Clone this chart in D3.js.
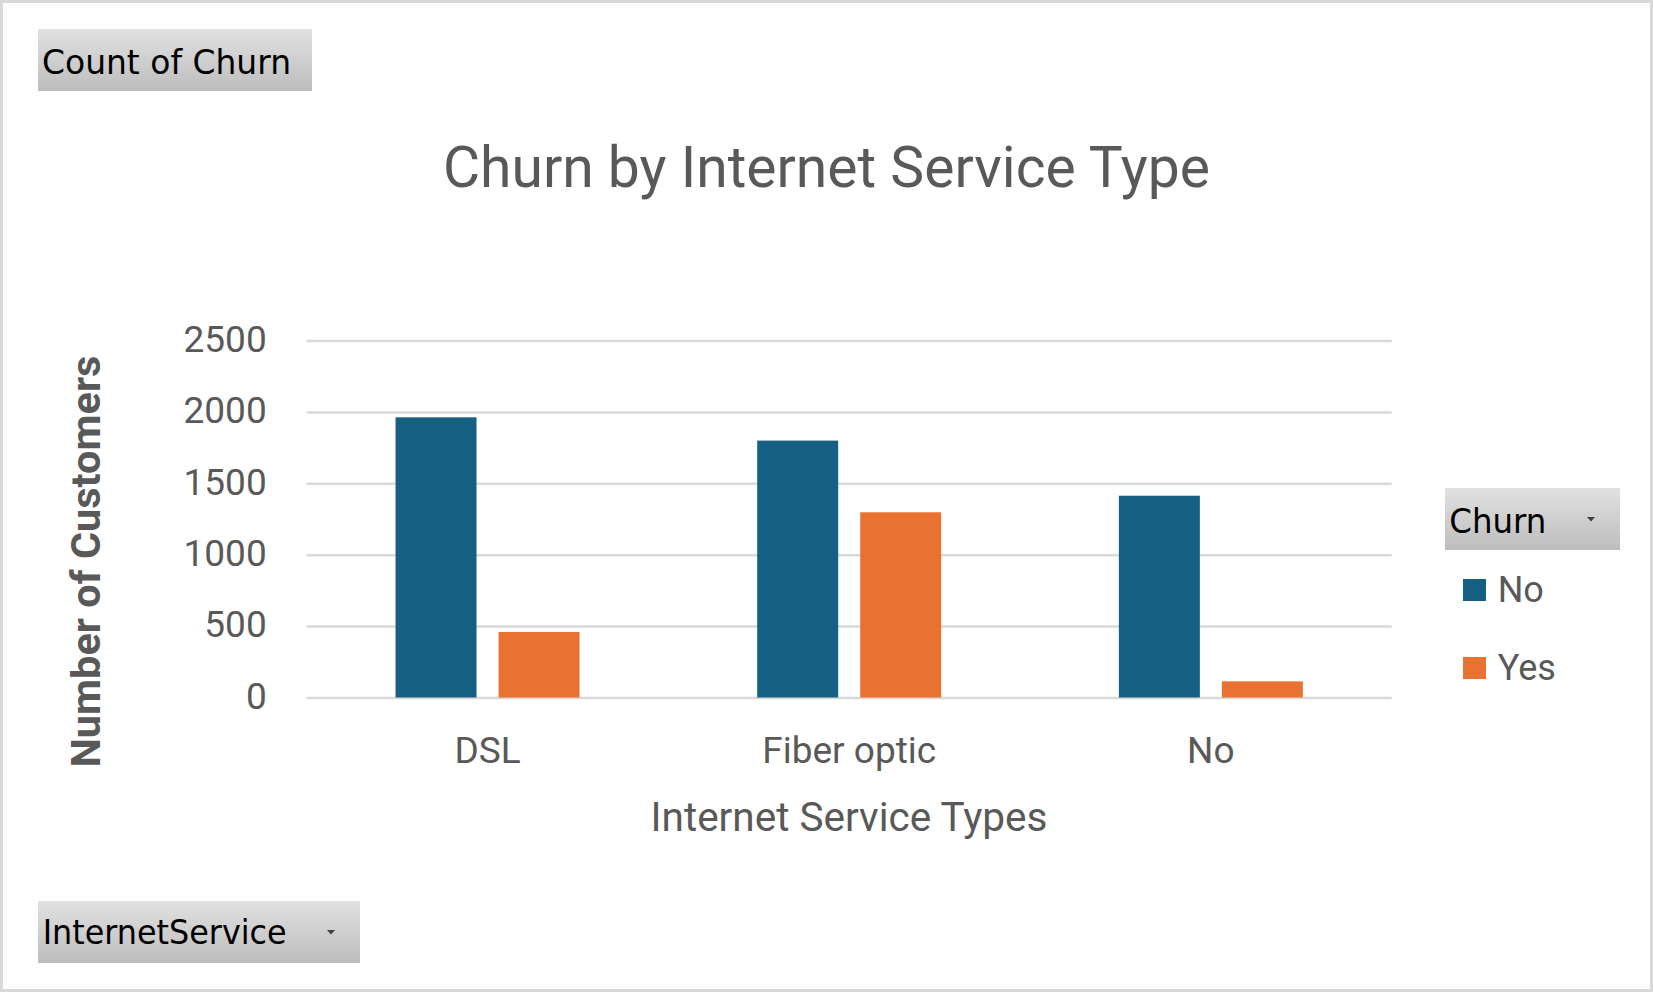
<!DOCTYPE html>
<html>
<head>
<meta charset="utf-8">
<script src="https://cdn.jsdelivr.net/npm/d3@7"></script>
<style>
  html, body { margin: 0; padding: 0; background: #ffffff; }
  svg { display: block; }
</style>
</head>
<body>
<svg id="chart" width="1653" height="993"></svg>
<script>
// ---- data ----
const categories = ["DSL", "Fiber optic", "No"];
const seriesNames = ["No", "Yes"];
const churnNo = [1962, 1799, 1413];
const churnYes = [459, 1297, 113];
const yTicks = [0, 500, 1000, 1500, 2000, 2500];
const seriesColors = ["#156082", "#E97132"];

const chartTitle = "Churn by Internet Service Type";
const xTitle = "Internet Service Types";
const yTitle = "Number of Customers";

// ---- build rows ----
const rows = categories.map((c, i) => ({ cat: c, values: [
  { key: seriesNames[0], value: churnNo[i] },
  { key: seriesNames[1], value: churnYes[i] }
]}));

const svg = d3.select("#chart");
const W = 1653, H = 993;
const textColor = "#595959";
const font = "Roboto, 'Liberation Sans', Arial, sans-serif";
const btnFont = "'DejaVu Sans', Verdana, sans-serif";

// background + border
svg.append("rect").attr("x", 1.5).attr("y", 1.5).attr("width", W - 3).attr("height", H - 4)
  .attr("fill", "#ffffff").attr("stroke", "#d9d9d9").attr("stroke-width", 3);

// gradient for pivot buttons
const defs = svg.append("defs");
const grad = defs.append("linearGradient").attr("id", "btnGrad")
  .attr("x1", 0).attr("y1", 0).attr("x2", 0).attr("y2", 1);
grad.append("stop").attr("offset", "0%").attr("stop-color", "#e1e1e1");
grad.append("stop").attr("offset", "100%").attr("stop-color", "#bdbdbd");

// ---- scales ----
const plot = { left: 306.7, right: 1391.7, top: 340.5, bottom: 697.5 };
const y = d3.scaleLinear().domain([0, 2500]).range([plot.bottom, plot.top]);
const x0 = d3.scaleBand().domain(categories).range([plot.left, plot.right]).padding(0);
const groupW = 184;
const x1 = d3.scaleBand().domain(seriesNames)
  .range([x0.bandwidth() / 2 - groupW / 2, x0.bandwidth() / 2 + groupW / 2])
  .paddingInner(0.214).paddingOuter(0);
const color = d3.scaleOrdinal().domain(seriesNames).range(seriesColors);

// ---- gridlines ----
const grid = svg.append("g").attr("transform", `translate(${plot.left},0)`)
  .call(d3.axisLeft(y).tickValues(yTicks).tickSize(-(plot.right - plot.left)).tickFormat(""));
grid.select(".domain").remove();
grid.selectAll(".tick line").attr("stroke", "#d9d9d9").attr("stroke-width", 2.5);

// ---- y axis labels ----
const yAxis = svg.append("g").attr("transform", `translate(266.7,0)`)
  .call(d3.axisLeft(y).tickValues(yTicks).tickSize(0).tickPadding(0).tickFormat(d3.format("d")));
yAxis.select(".domain").remove();
yAxis.selectAll("text").attr("fill", textColor).attr("font-family", font)
  .attr("font-size", 37).attr("dy", "0.29em");

// ---- bars ----
const groups = svg.append("g").selectAll("g").data(rows).join("g")
  .attr("transform", d => `translate(${x0(d.cat)},0)`);
groups.selectAll("rect").data(d => d.values).join("rect")
  .attr("x", d => x1(d.key))
  .attr("width", x1.bandwidth())
  .attr("y", d => y(d.value))
  .attr("height", d => y(0) - y(d.value))
  .attr("fill", d => color(d.key));

// ---- x axis labels ----
const xAxis = svg.append("g").attr("transform", `translate(0,${plot.bottom})`)
  .call(d3.axisBottom(x0).tickSize(0).tickPadding(0));
xAxis.select(".domain").remove();
xAxis.selectAll("text").attr("fill", textColor).attr("font-family", font)
  .attr("font-size", 37).attr("dy", 0).attr("y", 65);

// ---- titles ----
svg.append("text").attr("x", 826.5).attr("y", 186.5).attr("text-anchor", "middle")
  .attr("font-family", font).attr("font-size", 57).attr("fill", textColor).text(chartTitle);

svg.append("text").attr("x", 849).attr("y", 831).attr("text-anchor", "middle")
  .attr("font-family", font).attr("font-size", 40.5).attr("fill", textColor).text(xTitle);

svg.append("text").attr("transform", "translate(100,561.5) rotate(-90)").attr("text-anchor", "middle")
  .attr("font-family", font).attr("font-weight", "bold").attr("font-size", 41.5)
  .attr("fill", textColor).text(yTitle);

// ---- pivot buttons ----
function button(x, yy, w, h, label, tx, tBase, tLen, arrowX) {
  const g = svg.append("g");
  g.append("rect").attr("x", x).attr("y", yy).attr("width", w).attr("height", h).attr("fill", "url(#btnGrad)");
  g.append("text").attr("x", tx).attr("y", tBase).attr("font-family", btnFont).attr("font-size", 33)
    .attr("fill", "#000000").attr("textLength", tLen).attr("lengthAdjust", "spacingAndGlyphs").text(label);
  if (arrowX != null) {
    const ay = yy + h / 2;
    g.append("path").attr("d", `M${arrowX - 4},${ay - 2} L${arrowX + 4},${ay - 2} L${arrowX},${ay + 2.5} Z`)
      .attr("fill", "#404040");
  }
}
button(38, 29, 274, 62, "Count of Churn", 42, 74, 249, null);
button(38, 901, 322, 62, "InternetService", 42.7, 944.3, 244, 331);
button(1445, 488, 175, 62, "Churn", 1449.3, 533.3, 97, 1591);

// ---- legend ----
const legendY = [579, 657];
const legend = svg.append("g").selectAll("g").data(seriesNames).join("g")
  .attr("transform", (d, i) => `translate(1463,${legendY[i]})`);
legend.append("rect").attr("width", 23).attr("height", 22).attr("fill", d => color(d));
legend.append("text").attr("x", 34.7).attr("y", 22.5).attr("font-family", font).attr("font-size", 36)
  .attr("fill", textColor).text(d => d);
</script>
</body>
</html>
